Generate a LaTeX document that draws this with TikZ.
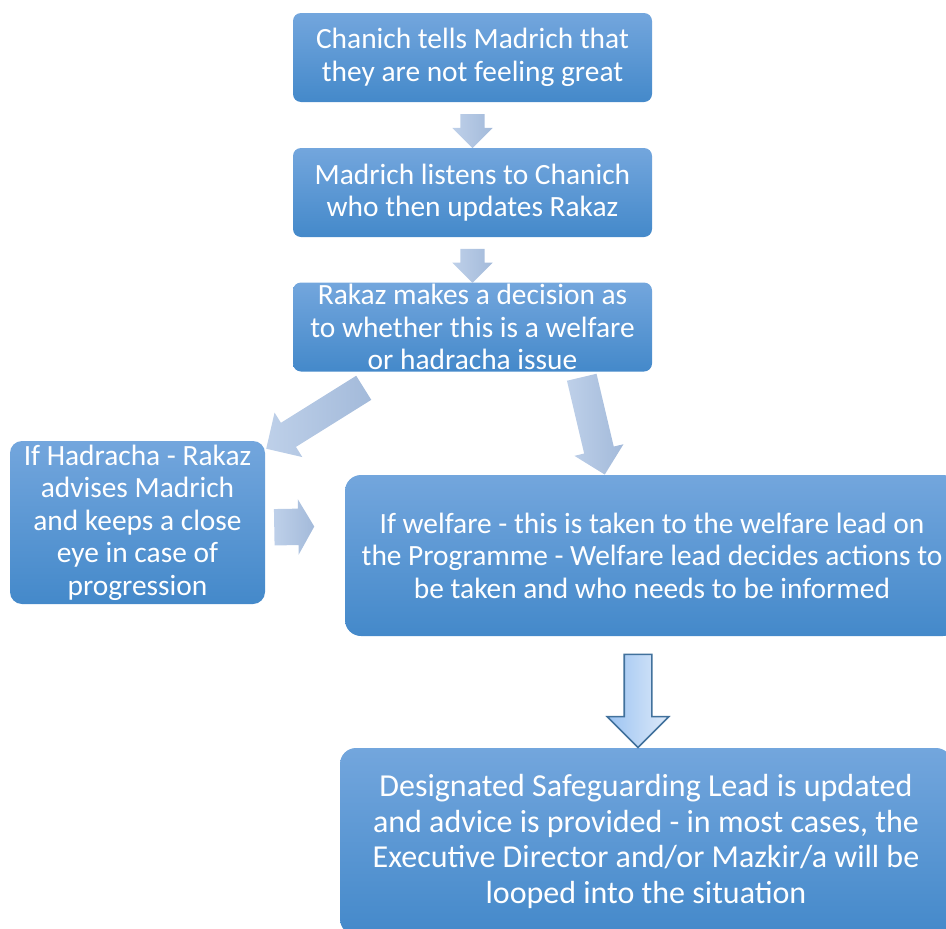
\documentclass[tikz,border=0pt]{standalone}
\usepackage{fontspec}
\setmainfont{Carlito}
\usetikzlibrary{calc,shapes.arrows,shadings}

\definecolor{boxtop}{RGB}{115,166,221}
\definecolor{boxbot}{RGB}{68,137,202}
\definecolor{arrtail}{RGB}{190,208,233}
\definecolor{arrhead}{RGB}{163,186,218}
\definecolor{bigtop}{RGB}{155,195,242}
\definecolor{bigbot}{RGB}{222,234,249}
\definecolor{bigline}{RGB}{65,113,156}

\tikzset{
  box/.style={rectangle, rounded corners=8pt, top color=boxtop, bottom color=boxbot,
    text=white, align=center, inner sep=0pt, font=\fontsize{29.4}{32.5}\selectfont},
  smallbox/.style={box, minimum width=359pt, minimum height=89pt},
  bigbox/.style={box, rounded corners=16pt},
  flow/.style={single arrow, draw=none, inner xsep=0pt, single arrow head indent=0pt,
    left color=arrtail, right color=arrhead},
}

\begin{document}
\begin{tikzpicture}[x=1pt,y=-1pt]
\clip (0,0) rectangle (946,929);
\path
(472.5,57.5) node[smallbox] (1) {Chanich tells Madrich that\\they are not feeling great}
+(0,135)   node[smallbox] (2) {Madrich listens to Chanich\\who then updates Rakaz}
+(0,269.5) node[smallbox] (3) {Rakaz makes a decision as\\to whether this is a welfare\\or hadracha issue}
(137.5,522.5) node[box, rounded corners=12pt, minimum width=255pt, minimum height=163pt] (4)
  {If Hadracha - Rakaz\\advises Madrich\\and keeps a close\\eye in case of\\progression}
(652,555.5) node[bigbox, minimum width=614pt, minimum height=161pt] (5)
  {If welfare - this is taken to the welfare lead on\\the Programme - Welfare lead decides actions to\\be taken and who needs to be informed}
(646,841.5) node[bigbox, minimum width=612pt, minimum height=187pt, font=\fontsize{32}{35.5}\selectfont] (6)
  {Designated Safeguarding Lead is updated\\and advice is provided - in most cases, the\\Executive Director and/or Mazkir/a will be\\looped into the situation}
;
% block arrows
\path
($(1.south)!0.5!(2.north)$) node[flow, rotate=-90, minimum height=34pt, inner ysep=12pt, single arrow head extend=8pt] (a) {}
($(2.south)!0.5!(3.north)$) node[flow, rotate=-90, minimum height=34pt, inner ysep=12pt, single arrow head extend=8pt] (b) {}
(321,414.5) node[flow, rotate=212, minimum height=115pt, inner ysep=14pt, single arrow head extend=12pt] (c) {}
(591.5,418.5) node[flow, rotate=-76.7, minimum height=100pt, inner ysep=15pt, single arrow head extend=10pt] (d) {}
(289,527) node[flow, rotate=1, minimum height=40pt, inner ysep=18pt, single arrow head extend=9.5pt, single arrow tip angle=120] (e) {}
(638,694) node[flow, draw=bigline, line width=1.6pt, left color=bigtop, right color=bigbot, rotate=-90, minimum height=93pt, inner ysep=13pt, single arrow head extend=17pt] (f) {}
;
\end{tikzpicture}
\end{document}
